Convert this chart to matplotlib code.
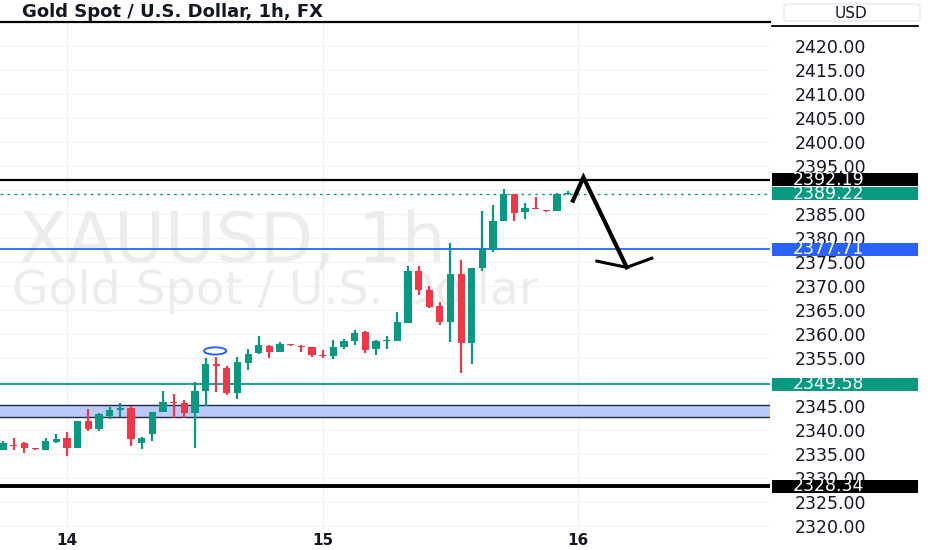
import matplotlib
matplotlib.use("Agg")
import matplotlib.pyplot as plt
from matplotlib.patches import Rectangle, Ellipse, FancyBboxPatch
from matplotlib.lines import Line2D
import matplotlib.transforms as mtransforms
import numpy as np

# ---- data (hourly candles) ----
opens = [2335.8, 2337.0, 2337.3, 2336.1, 2335.8, 2337.5, 2338.3, 2336.2, 2341.9, 2340.2,
         2342.9, 2344.2, 2344.6, 2337.3, 2339.2, 2343.8, 2345.8, 2345.7, 2343.5, 2348.1,
         2353.8, 2353.0, 2347.8, 2354.0, 2356.0, 2357.5, 2356.3, 2357.9, 2357.6, 2357.3,
         2355.7, 2355.5, 2357.3, 2358.5, 2360.4, 2356.8, 2358.5, 2358.6, 2362.3, 2373.1,
         2369.2, 2365.8, 2362.5, 2372.5, 2358.1, 2373.7, 2377.5, 2383.5, 2389.2, 2385.4,
         2386.2, 2385.7, 2385.6, 2389.1]
highs = [2337.8, 2338.3, 2337.5, 2336.3, 2338.3, 2339.2, 2339.6, 2342.0, 2344.4, 2343.5,
         2344.8, 2345.6, 2345.0, 2338.5, 2343.8, 2348.1, 2347.5, 2346.3, 2350.0, 2355.0,
         2355.2, 2353.3, 2355.2, 2356.8, 2359.6, 2357.7, 2358.3, 2358.0, 2357.7, 2357.4,
         2356.7, 2358.7, 2359.0, 2360.8, 2360.6, 2358.8, 2359.5, 2364.6, 2374.2, 2374.2,
         2370.0, 2366.7, 2379.0, 2375.4, 2373.8, 2385.6, 2386.9, 2390.2, 2389.2, 2387.3,
         2388.5, 2385.8, 2389.4, 2389.7]
lows = [2335.8, 2335.8, 2335.2, 2335.9, 2335.8, 2337.4, 2334.6, 2336.2, 2339.8, 2339.8,
        2342.3, 2342.7, 2336.7, 2336.0, 2337.7, 2343.8, 2342.5, 2342.5, 2336.3, 2345.0,
        2348.0, 2347.3, 2346.5, 2352.5, 2355.8, 2355.0, 2356.2, 2357.5, 2356.3, 2355.2,
        2355.0, 2354.8, 2357.0, 2357.7, 2356.0, 2355.6, 2356.9, 2358.5, 2362.3, 2368.1,
        2365.4, 2361.9, 2358.3, 2351.9, 2353.8, 2373.1, 2377.1, 2383.5, 2383.5, 2384.0,
        2386.0, 2385.5, 2385.6, 2389.0]
closes = [2337.3, 2336.6, 2336.2, 2336.0, 2337.7, 2338.2, 2336.2, 2341.9, 2340.2, 2343.3,
          2344.2, 2344.6, 2338.1, 2338.3, 2343.8, 2345.8, 2345.6, 2343.5, 2348.1, 2353.8,
          2353.3, 2347.7, 2354.1, 2355.9, 2357.7, 2356.3, 2358.0, 2357.7, 2357.3, 2355.6,
          2355.4, 2357.3, 2358.5, 2360.2, 2356.7, 2358.5, 2358.7, 2362.5, 2373.1, 2369.2,
          2365.6, 2362.5, 2372.5, 2358.1, 2373.7, 2377.7, 2383.5, 2389.2, 2385.2, 2386.2,
          2386.0, 2385.6, 2389.2, 2389.3]

day_tick_index = [6, 30, 54]
day_labels = ["14", "15", "16"]
grid_prices = list(range(2320, 2425, 5))
# labels hidden behind the price badges in the reference are not shown
label_prices = [p for p in grid_prices if p not in (2390, 2350)]

# horizontal levels
level_top_black = 2392.19
level_last = 2389.22
level_blue = 2377.71
level_green = 2349.58
level_bottom_black = 2328.34
zone_low, zone_high = 2342.7, 2345.2

# hand-drawn arrow (index, price)
arrow_x = [53.5, 54.48, 58.55]
arrow_y = [2387.8, 2392.65, 2373.9]
head_x = [55.74, 58.55, 60.9]
head_y = [2375.2, 2373.9, 2375.8]
ellipse_center = (19.9, 2356.5)

GREEN = "#089981"
RED = "#f23645"
BLUE = "#2962ff"

fig = plt.figure(figsize=(9.32, 5.5), dpi=100)
fig.patch.set_facecolor("white")
ax = fig.add_axes([0, 20 / 550, 770 / 932, (530 - 22) / 550])
ax.set_facecolor("white")
ax.set_xlim(-0.3, 72.0)
ax.set_ylim(2319.2, 2425.0)

for s in ax.spines.values():
    s.set_visible(False)

# grid
for p in grid_prices:
    ax.axhline(p, color="#f0f3fa", lw=1.0, zorder=0)
for d in day_tick_index:
    ax.axvline(d, color="#eef0f4", lw=1.0, zorder=0)

# watermark
ax.text(0.025, 0.565, "XAUUSD, 1h", transform=ax.transAxes, fontsize=50,
        color="#ececec", ha="left", va="center", zorder=0.5)
ax.text(0.015, 0.47, "Gold Spot / U.S. Dollar", transform=ax.transAxes, fontsize=34,
        color="#ececec", ha="left", va="center", zorder=0.5)

# zone
ax.axhspan(zone_low, zone_high, color="#bccafa", zorder=1, lw=0)
ax.axhline(zone_low, color="#1f2a44", lw=1.0, zorder=1.2)
ax.axhline(zone_high, color="#1f2a44", lw=1.0, zorder=1.2)

# levels
ax.axhline(level_top_black, color="black", lw=1.6, zorder=1.5)
ax.axhline(level_last, color=GREEN, lw=1.0, ls=(0, (2, 3)), zorder=1.5)
ax.axhline(level_blue, color=BLUE, lw=1.3, zorder=1.5)
ax.axhline(level_green, color=GREEN, lw=1.3, zorder=1.5)
ax.axhline(level_bottom_black, color="black", lw=2.8, zorder=1.5)

# candles
x = np.arange(len(opens))
o = np.array(opens); c = np.array(closes); h = np.array(highs); l = np.array(lows)
cols = [GREEN if cc >= oo else RED for oo, cc in zip(o, c)]
ax.vlines(x, l, h, colors=cols, lw=1.6, zorder=3)
bottoms = np.minimum(o, c)
heights = np.maximum(np.abs(c - o), 0.3)
ax.bar(x, heights, bottom=bottoms, width=0.68, color=cols, zorder=3.2, lw=0)

# ellipse marker
ax.add_patch(Ellipse(ellipse_center, 2.1, 1.5, fill=False, edgecolor=BLUE, lw=1.4, zorder=4))

# arrow drawing
ax.plot(arrow_x, arrow_y, color="black", lw=3.0, solid_joinstyle="miter", zorder=5)
ax.plot(head_x, head_y, color="black", lw=2.2, zorder=5)

# axes ticks
ax.set_xticks(day_tick_index)
ax.set_xticklabels(day_labels, fontsize=11, fontweight="bold", color="#131722")
ax.tick_params(axis="x", length=0, pad=2)
ax.yaxis.tick_right()
ax.set_yticks(label_prices)
ax.set_yticklabels([f"{p:.2f}" for p in label_prices], fontsize=12.5, color="#131722")
ax.tick_params(axis="y", length=0, pad=18)

# price badges
bt = mtransforms.blended_transform_factory(fig.transFigure, ax.transData)
badges = [(level_top_black, "black"), (level_last, GREEN), (level_blue, BLUE),
          (level_green, GREEN), (level_bottom_black, "black")]
for val, col in badges:
    ax.add_patch(Rectangle((772 / 932, val - 1.35), 146 / 932, 2.7, transform=bt,
                           facecolor=col, edgecolor="none", clip_on=False, zorder=10))
    ax.text(793 / 932, val, f"{val:.2f}", transform=bt, fontsize=12.5, color="white",
            ha="left", va="center", clip_on=False, zorder=11)

# header
fig.add_artist(Line2D([0, 770 / 932], [1 - 22 / 550] * 2, color="black", lw=1.6,
                      transform=fig.transFigure))
fig.add_artist(Line2D([772 / 932, 918 / 932], [1 - 26 / 550] * 2, color="black", lw=1.3,
                      transform=fig.transFigure))
fig.add_artist(FancyBboxPatch((784 / 932, 1 - 21 / 550), 136 / 932, 17 / 550,
                              boxstyle="round,pad=0,rounding_size=0.005",
                              transform=fig.transFigure, facecolor="white",
                              edgecolor="#e0e3eb", lw=0.8))
fig.text(851 / 932, 1 - 13 / 550, "USD", fontsize=11, color="#131722",
         ha="center", va="center")
fig.text(22 / 932, 1 - 12 / 550, "Gold Spot / U.S. Dollar, 1h, FX", fontsize=13,
         fontweight="bold", color="#131722", ha="left", va="center")

fig.savefig("out.png", dpi=100, facecolor="white")
